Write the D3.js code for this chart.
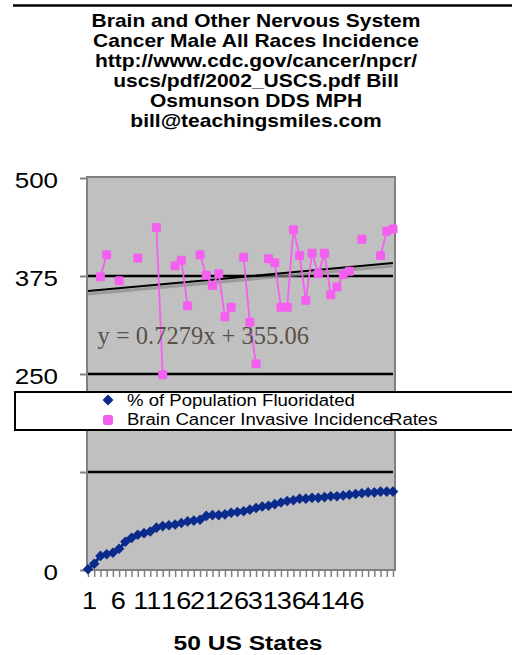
<!DOCTYPE html>
<html>
<head>
<meta charset="utf-8">
<script src="https://cdn.jsdelivr.net/npm/d3@7"></script>
<style>
  body { margin: 0; background: #fff; }
  svg { display: block; font-family: Arial, "Liberation Sans", sans-serif; }
</style>
</head>
<body>
<script>
// chart data
const titleLines = [
  "Brain and Other Nervous System",
  "Cancer Male All Races Incidence",
  "http://www.cdc.gov/cancer/npcr/",
  "uscs/pdf/2002_USCS.pdf Bill",
  "Osmunson DDS MPH",
  "bill@teachingsmiles.com"
];
const states = d3.range(1, 51);
const fluoridated = [1, 8, 18, 20, 22, 27, 36, 41, 45, 47, 49, 54, 56, 57, 58, 60, 62, 63, 64, 69,
  70, 70, 71, 73, 74, 75, 77, 79, 81, 82, 84, 86, 88, 89, 91, 91, 92, 92, 93, 94,
  94, 95, 96, 97, 98, 99, 99, 100, 100, 100];
const brainRates = [null, null, 374, 402, null, 369, null, null, 398, null,
  null, 437, 249, null, 388, 395, 337, null, 402, 376,
  363, 378, 323, 335, null, 399, 316, 263, null, 397,
  392, 335, 335, 434, 401, 344, 404, 378, 404, 351,
  361, 377, 381, null, 422, null, null, 401, 432, 435];
const yTicks = [0, 125, 250, 375, 500];
const yTickLabels = ["0", "", "250", "375", "500"];
const xTickLabels = ["1", "6", "11", "16", "21", "26", "31", "36", "41", "46"];
const trendSlope = 0.7279;
const trendIntercept = 355.06;
const seriesNames = ["% of Population Fluoridated", "Brain Cancer Invasive Incidence", "Rates"];
const xTitle = "50 US States";

const width = 512, height = 655;
const SX = 1.18; // glyphs in the picture are drawn a bit wide
const navy = "#0a2a8c", pink = "#f45ff0";

const svg = d3.select("body").append("svg")
  .attr("width", width)
  .attr("height", height);

const x = d3.scaleLinear().domain([1, 50]).range([88, 393]);
const y = d3.scaleLinear().domain([0, 500]).range([570, 178]);
const xLab = d3.scalePoint().domain(xTickLabels).range([89, 349]);

const wide = (sel, sx = SX) => sel.attr("transform", function () {
  const t = d3.select(this).attr("data-t") || "";
  return `${t} scale(${sx},1)`;
});

// top rule
svg.append("line")
  .attr("x1", 13).attr("x2", width).attr("y1", 5.5).attr("y2", 5.5)
  .attr("stroke", "#000").attr("stroke-width", 2.5);

// title
svg.append("g").selectAll("text")
  .data(titleLines)
  .join("text")
  .attr("data-t", (d, i) => `translate(256,${26.7 + i * 20})`)
  .attr("text-anchor", "middle")
  .attr("font-size", 17.5)
  .attr("font-weight", "bold")
  .text(d => d)
  .call(wide, 1.2);

// plot area
svg.append("rect")
  .attr("x", x(1) - 1).attr("y", y(500) - 1)
  .attr("width", x(50) - x(1) + 3).attr("height", y(0) - y(500) + 1)
  .attr("fill", "#c0c0c0")
  .attr("stroke", "#808080").attr("stroke-width", 2);

// gridlines
svg.append("g").selectAll("line")
  .data(yTicks.filter(d => d > 0 && d < 500))
  .join("line")
  .attr("x1", x(1)).attr("x2", x(50))
  .attr("y1", d => y(d)).attr("y2", d => y(d))
  .attr("stroke", "#000").attr("stroke-width", 2.5);

// y axis
const yAxis = svg.append("g")
  .attr("transform", `translate(${x(1) - 1},0)`)
  .call(d3.axisLeft(y).tickValues(yTicks)
    .tickFormat((d, i) => yTickLabels[i])
    .tickSize(7).tickPadding(17.6));
yAxis.select(".domain").remove();
yAxis.selectAll(".tick line").attr("stroke", "#808080").attr("stroke-width", 2);
yAxis.selectAll(".tick text")
  .attr("font-size", 22).attr("font-family", "Arial, 'Liberation Sans', sans-serif")
  .attr("fill", "#000").attr("dy", "0.45em")
  .attr("transform", `scale(${SX},1)`);

// x axis ticks
const xAxis = svg.append("g")
  .attr("transform", `translate(0,${y(0)})`)
  .call(d3.axisBottom(x).tickValues(states).tickFormat("").tickSize(7));
xAxis.select(".domain").remove();
xAxis.selectAll(".tick line").attr("stroke", "#808080").attr("stroke-width", 1.5);

// x tick labels
const xLabAxis = svg.append("g")
  .attr("transform", `translate(0,${y(0)})`)
  .call(d3.axisBottom(xLab).tickSize(0).tickPadding(23));
xLabAxis.select(".domain").remove();
xLabAxis.selectAll(".tick text")
  .attr("font-size", 23).attr("font-family", "Arial, 'Liberation Sans', sans-serif")
  .attr("fill", "#000")
  .attr("transform", `scale(${SX},1)`);

// trendline with shadow
const trend = d3.line()
  .x(d => x(d))
  .y(d => y(trendSlope * d + trendIntercept));
svg.append("path")
  .datum([1, 50])
  .attr("d", trend)
  .attr("transform", "translate(0,3)")
  .attr("fill", "none")
  .attr("stroke", "#8a8a8a").attr("stroke-opacity", 0.7).attr("stroke-width", 3);
svg.append("path")
  .datum([1, 50])
  .attr("d", trend)
  .attr("fill", "none")
  .attr("stroke", "#000").attr("stroke-width", 2);

// fluoridation series
const blueLine = d3.line()
  .x((d, i) => x(states[i]))
  .y(d => y(d));
svg.append("path")
  .datum(fluoridated)
  .attr("d", blueLine)
  .attr("fill", "none")
  .attr("stroke", navy).attr("stroke-width", 3);
svg.append("g").selectAll("path")
  .data(fluoridated)
  .join("path")
  .attr("d", d3.symbol(d3.symbolSquare, 56))
  .attr("transform", (d, i) => `translate(${x(states[i])},${y(d)}) rotate(45)`)
  .attr("fill", navy);

// brain cancer series
const pinkLine = d3.line()
  .defined(d => d !== null)
  .x((d, i) => x(states[i]))
  .y(d => y(d));
svg.append("path")
  .datum(brainRates)
  .attr("d", pinkLine)
  .attr("fill", "none")
  .attr("stroke", pink).attr("stroke-width", 1.8);
svg.append("g").selectAll("rect")
  .data(brainRates.map((v, i) => ({ v, s: states[i] })).filter(d => d.v !== null))
  .join("rect")
  .attr("x", d => x(d.s) - 4.5).attr("y", d => y(d.v) - 4.5)
  .attr("width", 9).attr("height", 9).attr("rx", 1.5)
  .attr("fill", pink);

// trendline equation
svg.append("text")
  .attr("x", 97.5).attr("y", 344)
  .attr("font-family", "'Liberation Serif', 'Times New Roman', serif")
  .attr("font-size", 24.5)
  .attr("fill", "#5b5047")
  .text(`y = ${trendSlope}x + ${trendIntercept.toFixed(2)}`);

// legend
const legend = svg.append("g");
legend.append("rect")
  .attr("x", 15).attr("y", 392).attr("width", 520).attr("height", 38)
  .attr("fill", "#fff").attr("stroke", "#000").attr("stroke-width", 2);
legend.append("path")
  .attr("d", d3.symbol(d3.symbolSquare, 60))
  .attr("transform", "translate(108,400) rotate(45)")
  .attr("fill", navy);
legend.append("rect")
  .attr("x", 103).attr("y", 415).attr("width", 10).attr("height", 10).attr("rx", 2.5)
  .attr("fill", pink);
legend.append("text")
  .attr("data-t", "translate(127,405.5)")
  .attr("font-size", 16)
  .text(seriesNames[0])
  .call(wide, 1.16);
legend.append("text")
  .attr("data-t", "translate(127,424.5)")
  .attr("font-size", 16)
  .text(seriesNames[1])
  .call(wide, 1.16);
legend.append("text")
  .attr("data-t", "translate(389,424.5)")
  .attr("font-size", 16)
  .text(seriesNames[2])
  .call(wide, 1.16);

// x title
svg.append("text")
  .attr("data-t", "translate(248,650)")
  .attr("text-anchor", "middle")
  .attr("font-size", 20.5)
  .attr("font-weight", "bold")
  .text(xTitle)
  .call(wide, 1.2);
</script>
</body>
</html>
